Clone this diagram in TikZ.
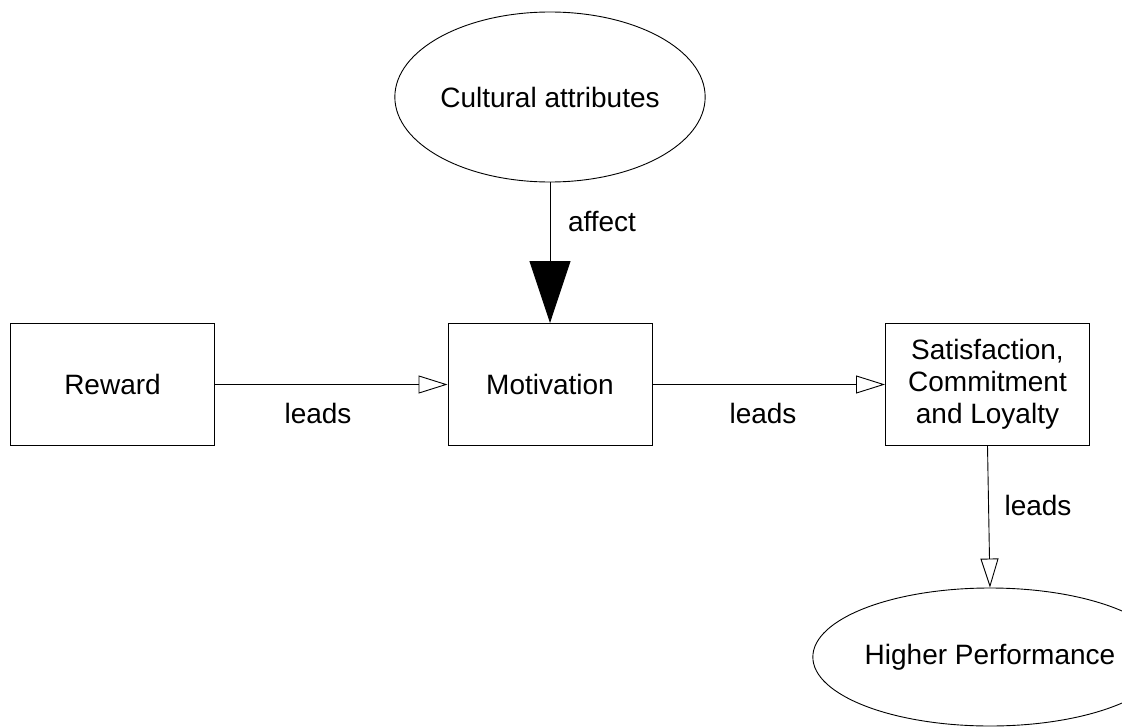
\documentclass[tikz,border=0pt]{standalone}
\usepackage{fontspec}
\setmainfont{Liberation Sans}
\usetikzlibrary{shapes.geometric,arrows.meta}
\begin{document}
\begin{tikzpicture}[x=1pt,y=-1pt,
  every node/.style={font=\fontsize{28}{32}\selectfont, inner sep=0pt},
  box/.style={draw, line width=1pt, minimum width=204pt, minimum height=122pt, align=center},
  oval/.style={draw, line width=0.9pt, ellipse},
  lbl/.style={},
  leadsto/.style={line width=0.9pt, -{Triangle[open, length=29pt, width=18pt]}},
  affects/.style={line width=0.9pt, -{Triangle[length=62pt, width=41pt]}}]
  \useasboundingbox (0,0) rectangle (1122,728);
  \clip (0,0) rectangle (1122,728);

  % concepts
  \node[oval, minimum width=306pt, minimum height=170pt] (cult) at (550,97) {Cultural attributes};
  \node[box] (rew) at (112.5,384.5) {Reward};
  \node[box] (mot) at (550,384.5) {Motivation};
  \node[box] (sat) at (987.5,384.5) {Satisfaction,\\Commitment\\and Loyalty};
  \node[oval, minimum width=292pt, minimum height=138pt] (perf) at (990,657) {Higher Performance};

  % relations
  \draw[affects] (cult.south) -- (cult.south |- mot.north);
  \draw[leadsto] (rew.east) -- (mot.west);
  \draw[leadsto] (mot.east) -- (sat.west);
  \draw[leadsto] (sat.south) -- (perf.north);

  % relation labels
  \node[lbl] (laff) at (602,222) {affect};
  \node[lbl] (l1) at (318,413) {leads};
  \node[lbl] (l2) at (763,413) {leads};
  \node[lbl] (l3) at (1038,505) {leads};
\end{tikzpicture}
\end{document}
